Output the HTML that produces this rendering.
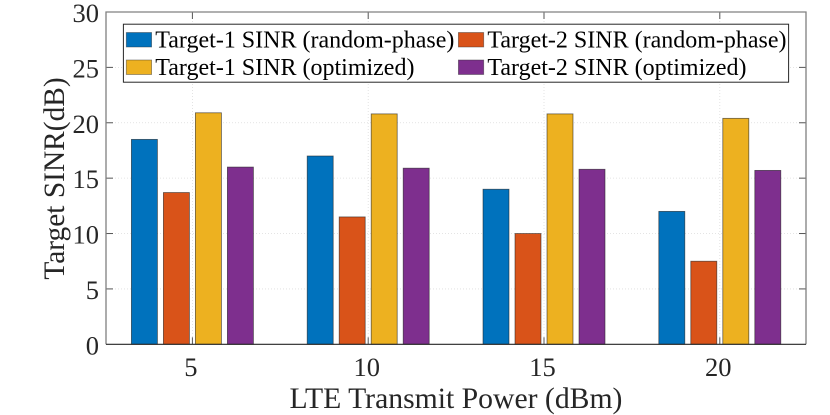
<!DOCTYPE html>
<html lang="en">
<head>
<meta charset="utf-8">
<title>Target SINR vs LTE Transmit Power</title>
<style>
html,body{margin:0;padding:0;background:#fff;}
svg{display:block;font-family:"Liberation Serif",serif;}
</style>
</head>
<body>
<svg id="chart" xmlns="http://www.w3.org/2000/svg" width="830" height="415" viewBox="0 0 830 415"></svg>
<script>
const categories = ['5', '10', '15', '20'];
const target1Random = [18.5, 17, 14, 12];
const target2Random = [13.7, 11.5, 10, 7.5];
const target1Optimized = [20.9, 20.8, 20.8, 20.4];
const target2Optimized = [16, 15.9, 15.8, 15.7];
const yTicks = [0, 5, 10, 15, 20, 25, 30];
const yMax = 30;
const seriesNames = ['target-1-random-phase', 'target-2-random-phase', 'target-1-optimized', 'target-2-optimized'];
const seriesLabels = ['Target-1 SINR (random-phase)', 'Target-2 SINR (random-phase)', 'Target-1 SINR (optimized)', 'Target-2 SINR (optimized)'];
const seriesValues = [target1Random, target2Random, target1Optimized, target2Optimized];
const seriesColors = ['#0072BD', '#D95319', '#EDB120', '#7E2F8E'];

const svg = document.getElementById('chart');
const NS = 'http://www.w3.org/2000/svg';
const plot = {left: 106, right: 806, top: 12, bottom: 344.3};
const categoryStep = 175.8;
const firstCategoryX = 192.4;
const barPitch = 32;
const barWidth = 26;

function xScale(i) { return firstCategoryX + i * categoryStep; }
function yScale(v) { return plot.bottom - (v / yMax) * (plot.bottom - plot.top); }
function make(tag, attrs, text) {
  const el = document.createElementNS(NS, tag);
  for (const k in attrs) el.setAttribute(k, attrs[k]);
  if (text !== undefined) el.textContent = text;
  svg.appendChild(el);
  return el;
}

// grid
yTicks.forEach(function (t) {
  if (t === 0 || t === yMax) return;
  const g = make('line', {x1: plot.left, x2: plot.right, y1: yScale(t), y2: yScale(t), stroke: '#dcdcdc', 'stroke-width': 0.8, 'stroke-dasharray': '1 2'});
  
  
});
categories.forEach(function (c, i) {
  const g = make('line', {x1: xScale(i), x2: xScale(i), y1: plot.top, y2: plot.bottom, stroke: '#dcdcdc', 'stroke-width': 0.8, 'stroke-dasharray': '1 2'});
  
  
});

// ticks
yTicks.forEach(function (t) {
  if (t === 0 || t === yMax) return;
  const a = make('line', {x1: plot.left, x2: plot.left + 7, y1: yScale(t), y2: yScale(t), stroke: '#555', 'stroke-width': 1});
  
  
  const b = make('line', {x1: plot.right - 7, x2: plot.right, y1: yScale(t), y2: yScale(t), stroke: '#555', 'stroke-width': 1});
  
  
});
categories.forEach(function (c, i) {
  const a = make('line', {x1: xScale(i), x2: xScale(i), y1: plot.bottom - 7, y2: plot.bottom, stroke: '#555', 'stroke-width': 1});
  
  
  const b = make('line', {x1: xScale(i), x2: xScale(i), y1: plot.top, y2: plot.top + 7, stroke: '#555', 'stroke-width': 1});
  
  
});

// bars
seriesValues.forEach(function (values, s) {
  values.forEach(function (v, i) {
    const x = xScale(i) + (s - 1.5) * barPitch - barWidth / 2;
    const bar = make('rect', {x: x, y: yScale(v), width: barWidth, height: plot.bottom - yScale(v), fill: seriesColors[s], stroke: '#222222aa', 'stroke-width': 0.8});
    
    
  });
});

// axes box
const frame = make('path', {d: 'M' + plot.left + ' ' + plot.bottom + 'V' + plot.top + 'H' + plot.right + 'V' + plot.bottom, fill: 'none', stroke: '#808080', 'stroke-width': 1.3});


const baseline = make('line', {x1: plot.left, x2: plot.right, y1: plot.bottom, y2: plot.bottom, stroke: '#262626', 'stroke-width': 1.2});



// tick labels
yTicks.forEach(function (t) {
  const l = make('text', {x: 99, y: yScale(t) + 10, 'text-anchor': 'end', 'font-size': 26.5, fill: '#262626'}, String(t));
  
  
});
categories.forEach(function (c, i) {
  const l = make('text', {x: xScale(i) - 1.5, y: 376, 'text-anchor': 'middle', 'font-size': 26.5, fill: '#262626'}, c);
  
  
});

// axis titles
const xTitle = make('text', {x: 456, y: 408, 'text-anchor': 'middle', 'font-size': 29.7, fill: '#262626'}, 'LTE Transmit Power (dBm)');


const yTitle = make('text', {x: 0, y: 0, transform: 'translate(64 178.5) rotate(-90)', 'text-anchor': 'middle', 'font-size': 29.4, fill: '#262626'}, 'Target SINR(dB)');



// legend
const legendBox = make('rect', {x: 123.4, y: 24.2, width: 665.2, height: 58, fill: '#fff', stroke: '#262626', 'stroke-width': 1});


const legendColX = [126.3, 458.4];
const legendRowY = [32.5, 60];
seriesLabels.forEach(function (label, s) {
  const col = s % 2;
  const row = Math.floor(s / 2);
  const sw = make('rect', {x: legendColX[col], y: legendRowY[row], width: 25.3, height: 14.5, fill: seriesColors[s], stroke: '#33333388', 'stroke-width': 0.8});
  
  
  const t = make('text', {x: legendColX[col] + 29, y: legendRowY[row] + 14.8, 'font-size': 24, fill: '#000'}, label);
  
  
});
</script>
</body>
</html>
